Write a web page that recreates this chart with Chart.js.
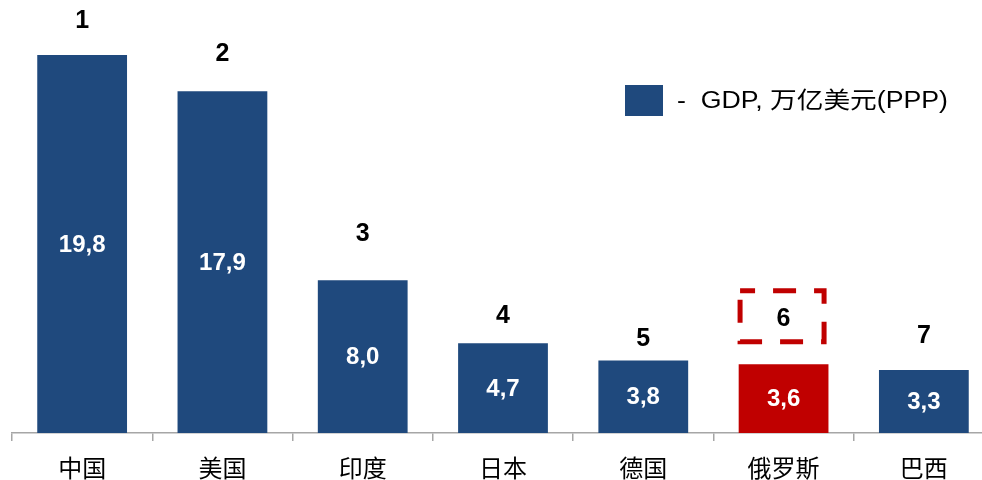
<!DOCTYPE html>
<html>
<head>
<meta charset="utf-8">
<script src="https://cdn.jsdelivr.net/npm/chart.js@4"></script>
<style>
  html, body { margin: 0; padding: 0; background: #fff; overflow: hidden; }
  #wrap { position: absolute; left: 0; top: 0; width: 1000px; height: 480px; }
</style>
</head>
<body>
<div id="wrap"><canvas id="gdpChart"></canvas></div>
<script>
const categories = ['中国', '美国', '印度', '日本', '德国', '俄罗斯', '巴西'];
const gdpValues = [19.8, 17.9, 8.0, 4.7, 3.8, 3.6, 3.3];
const rankLabels = ['1', '2', '3', '4', '5', '6', '7'];
const highlightIndex = 5;
const legendLabel = '-  GDP, 万亿美元(PPP)';

const BLUE = '#1F497D';
const RED = '#C00000';
const FONT = '"Liberation Sans", "Noto Sans CJK SC", sans-serif';

// gap between bar top and rank number (the original places them by hand)
const rankGap = [34, 37, 46, 27, 21, 45, 34];

const labelPlugin = {
    id: 'labelPlugin',
    afterDatasetsDraw(chart) {
        const ctx = chart.ctx;
        const bars = chart.getDatasetMeta(0).data;
        ctx.save();
        ctx.textAlign = 'center';
        ctx.textBaseline = 'middle';
        bars.forEach((bar, i) => {
            // value inside the bar
            ctx.fillStyle = '#fff';
            ctx.font = 'bold 24px ' + FONT;
            ctx.fillText(gdpValues[i].toFixed(1).replace('.', ','), bar.x, (bar.y + bar.base) / 2 + 1);

            // rank above the bar
            const ry = bar.y - rankGap[i];
            ctx.fillStyle = '#000';
            ctx.font = 'bold 25px ' + FONT;
            ctx.fillText(rankLabels[i], bar.x, ry);

            if (i === highlightIndex) {
                ctx.strokeStyle = RED;
                ctx.lineWidth = 5;
                ctx.setLineDash([23, 18]);
                ctx.lineDashOffset = 8;
                ctx.strokeRect(bar.x - 43.5, ry - 28.5, 84, 51);
                ctx.setLineDash([]);
            }
        });

        // legend
        ctx.fillStyle = BLUE;
        ctx.fillRect(625, 85, 38, 31);
        ctx.fillStyle = '#000';
        ctx.font = '23px ' + FONT;
        ctx.textAlign = 'left';
        const w = ctx.measureText(legendLabel).width;
        ctx.translate(677, 102);
        ctx.scale(271 / w, 1);
        ctx.fillText(legendLabel, 0, 0);
        ctx.restore();
    }
};

new Chart(document.getElementById('gdpChart'), {
    type: 'bar',
    data: {
        labels: categories,
        datasets: [{
            data: gdpValues,
            backgroundColor: gdpValues.map((v, i) => i === highlightIndex ? RED : BLUE),
            barPercentage: 0.64,
            categoryPercentage: 1.0
        }]
    },
    options: {
        responsive: true,
        maintainAspectRatio: false,
        animation: false,
        layout: { padding: { left: 12, right: 6, top: 0, bottom: 0 } },
        plugins: {
            legend: { display: false },
            tooltip: { enabled: false }
        },
        scales: {
            x: {
                grid: {
                    offset: true,
                    drawOnChartArea: false,
                    tickLength: 8,
                    color: '#A6A6A6',
                    lineWidth: 1.5
                },
                border: { color: '#A6A6A6', width: 1.5 },
                ticks: {
                    color: '#000',
                    padding: 15,
                    font: { family: FONT, size: 24 }
                },
                afterFit(scale) { scale.height = 47; }
            },
            y: {
                display: false,
                min: 0,
                max: 22.68
            }
        }
    },
    plugins: [labelPlugin]
});
</script>
</body>
</html>
